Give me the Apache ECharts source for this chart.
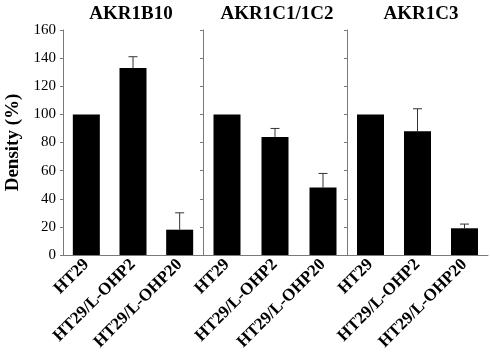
<!DOCTYPE html>
<html><head><meta charset="utf-8">
<script src="https://cdn.jsdelivr.net/npm/echarts@6/dist/echarts.min.js"></script>
<style>html,body{margin:0;padding:0;background:#fff}#c{width:490px;height:359px}</style>
</head><body><div id="c"></div>
<script>
var categories = ['HT29', 'HT29/L-OHP2', 'HT29/L-OHP20'];
var panelTitles = ['AKR1B10', 'AKR1C1/1C2', 'AKR1C3'];
var akr1b10 = [100, 133, 18];
var akr1b10Err = [0, 8, 12];
var akr1c12 = [100, 84, 48];
var akr1c12Err = [0, 6, 10];
var akr1c3 = [100, 88, 19];
var akr1c3Err = [0, 16, 3];
var yTicks = [0, 20, 40, 60, 80, 100, 120, 140, 160];

var values = [akr1b10, akr1c12, akr1c3];
var errs = [akr1b10Err, akr1c12Err, akr1c3Err];
var grids = [{left:63,width:140},{left:203,width:144},{left:347,width:141}];
var titleCenters = [126, 272, 416];
var serif = '"Liberation Serif", "Times New Roman", serif';
var axisCol = '#7a7a7a';

var chart = echarts.init(document.getElementById('c'), null, {renderer:'canvas'});
var option = {
  backgroundColor:'#fff',
  animation:false,
  title: panelTitles.map(function(t,i){return {text:t,left:titleCenters[i],top:0,textAlign:'center',
    textStyle:{fontFamily:serif,fontWeight:'bold',fontSize:19,color:'#000'}};}),
  grid: grids.map(function(g){return {left:g.left,width:g.width,top:30,bottom:104};}),
  xAxis: grids.map(function(g,i){return {type:'category',gridIndex:i,data:categories,
    axisLine:{lineStyle:{color:axisCol,width:1}},axisTick:{show:false},
    axisLabel:{interval:0,rotate:45,margin:7,fontFamily:serif,fontWeight:'bold',fontSize:17,color:'#000'}};}),
  yAxis: grids.map(function(g,i){return {type:'value',gridIndex:i,min:yTicks[0],max:yTicks[yTicks.length-1],interval:yTicks[1]-yTicks[0],
    name:i===0?'Density (%)':'',nameLocation:'middle',nameGap:40,
    nameTextStyle:{fontFamily:serif,fontWeight:'bold',fontSize:19,color:'#000'},
    axisLine:{show:true,lineStyle:{color:axisCol,width:1}},
    axisTick:{show:true,length:3,lineStyle:{color:axisCol}},
    splitLine:{show:false},
    axisLabel:{show:i===0,margin:7,fontFamily:serif,fontSize:15,color:'#000'}};}),
  series: []
};
values.forEach(function(v,i){
  option.series.push({type:'bar',xAxisIndex:i,yAxisIndex:i,data:v,barWidth:27,itemStyle:{color:'#000'}});
  var ed = [];
  v.forEach(function(val,j){ if(errs[i][j]>0) ed.push([j,val,val+errs[i][j]]); });
  option.series.push({type:'custom',xAxisIndex:i,yAxisIndex:i,data:ed,z:1,
    renderItem:function(params,api){
      var lo = api.coord([api.value(0),api.value(1)]);
      var hi = api.coord([api.value(0),api.value(2)]);
      var hw = 4.5;
      return {type:'group',children:[
        {type:'line',shape:{x1:lo[0],y1:lo[1],x2:hi[0],y2:hi[1]},style:{stroke:'#333',lineWidth:1}},
        {type:'line',shape:{x1:hi[0]-hw,y1:hi[1],x2:hi[0]+hw,y2:hi[1]},style:{stroke:'#333',lineWidth:1}}
      ]};
    }});
});
chart.setOption(option);
</script></body></html>
